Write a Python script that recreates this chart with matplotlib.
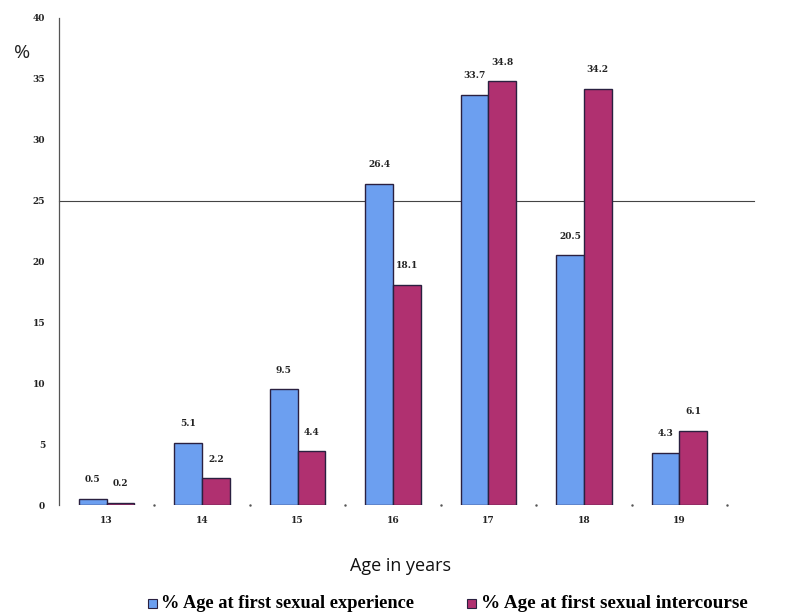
import matplotlib
matplotlib.use("Agg")
import matplotlib.pyplot as plt
import numpy as np
from matplotlib.patches import Rectangle

ages = ["13", "14", "15", "16", "17", "18", "19"]
experience = [0.5, 5.1, 9.5, 26.4, 33.7, 20.5, 4.3]
intercourse = [0.2, 2.2, 4.4, 18.1, 34.8, 34.2, 6.1]
yticks = [0, 5, 10, 15, 20, 25, 30, 35, 40]
series_names = ["% Age at first sexual experience", "% Age at first sexual intercourse"]

blue = "#6c9ff0"
mag = "#b03070"
edge = "#2a2040"

fig = plt.figure(figsize=(7.94, 6.14), dpi=100)
ax = fig.add_axes([0.0743, 0.1775, 0.8413, 0.7932])

x = np.arange(len(ages))
w = 0.29
ax.bar(x - w / 2, experience, w, color=blue, edgecolor=edge, linewidth=1.0, zorder=3)
ax.bar(x + w / 2, intercourse, w, color=mag, edgecolor=edge, linewidth=1.0, zorder=3)

for xi, v in zip(x, experience):
    ax.text(xi - w / 2, v + 1.2, f"{v}", ha="center", va="bottom", fontsize=6.5,
            fontweight="bold", color="#222222", family="DejaVu Serif", zorder=4)
for xi, v in zip(x, intercourse):
    ax.text(xi + w / 2, v + 1.2, f"{v}", ha="center", va="bottom", fontsize=6.5,
            fontweight="bold", color="#222222", family="DejaVu Serif", zorder=4)

ax.axhline(25, color="#444444", linewidth=0.8, xmin=0, xmax=1.04, clip_on=False, zorder=1)

ax.set_xlim(-0.5, len(ages) - 0.5)
ax.set_ylim(0, 40)
ax.set_yticks(yticks)
ax.set_yticklabels([str(t) for t in yticks], fontsize=6.5, fontweight="bold",
                   family="DejaVu Serif", color="#222222")
ax.set_xticks(x)
ax.set_xticklabels(ages, fontsize=6.5, fontweight="bold", family="DejaVu Serif",
                   color="#222222")
ax.tick_params(axis="both", length=0, pad=10)
ax.tick_params(axis="x", pad=8)
for s in ["top", "right", "bottom"]:
    ax.spines[s].set_visible(False)
ax.spines["left"].set_color("#555555")
ax.spines["left"].set_linewidth(0.9)

# small separator ticks between categories
for b in np.arange(0.5, len(ages), 1.0):
    ax.plot([b], [0], marker=".", markersize=1.5, color="#555555", clip_on=False)

fig.text(22 / 794, 1 - 53 / 614, "%", fontsize=14, ha="center", va="center",
         family="Open Sans", color="#222222")
fig.text(400 / 794, 1 - 566 / 614, "Age in years", fontsize=13, ha="center",
         va="center", family="Open Sans", color="#111111")

sq = 9 / 794
fig.patches.append(Rectangle((148 / 794, 1 - 608 / 614), sq, 9 / 614,
                             transform=fig.transFigure, facecolor=blue,
                             edgecolor=edge, linewidth=0.8))
fig.text(161 / 794, 1 - 603 / 614, series_names[0], fontsize=13.2,
         fontweight="bold", family="Liberation Serif", va="center", ha="left")
fig.patches.append(Rectangle((467 / 794, 1 - 608 / 614), sq, 9 / 614,
                             transform=fig.transFigure, facecolor=mag,
                             edgecolor=edge, linewidth=0.8))
fig.text(481 / 794, 1 - 603 / 614, series_names[1], fontsize=13.8,
         fontweight="bold", family="Liberation Serif", va="center", ha="left")

fig.savefig("out.png", dpi=100)
